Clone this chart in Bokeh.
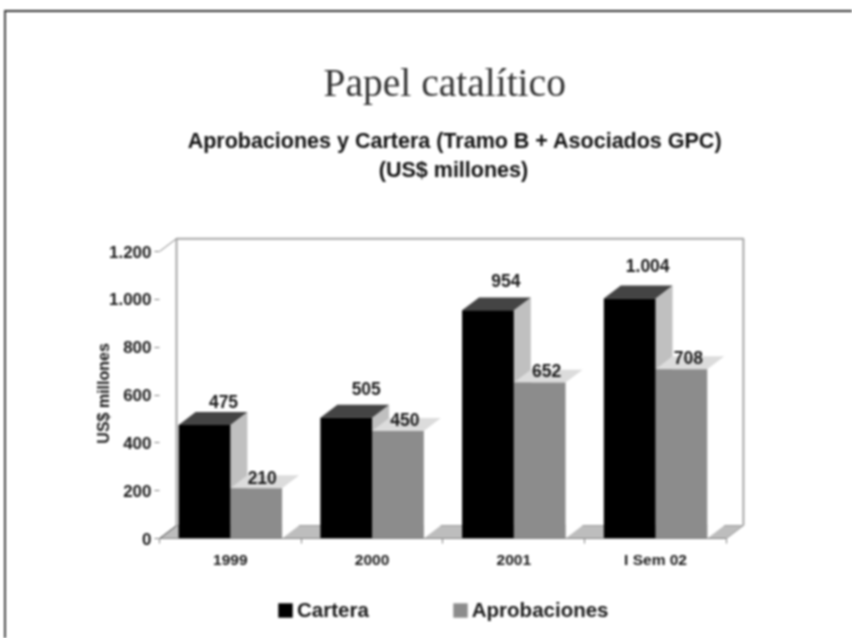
from bokeh.embed import file_html
from bokeh.resources import INLINE
from bokeh.plotting import figure
from bokeh.layouts import column
from bokeh.models import (ColumnDataSource, Range1d, FixedTicker, LinearAxis, Title,
                          Legend, LegendItem)
from bokeh.core.properties import value

categories = ["1999", "2000", "2001", "I Sem 02"]
cartera = [475, 505, 954, 1004]
aprobaciones = [210, 450, 652, 708]
cartera_labels = ["475", "505", "954", "1.004"]
aprobaciones_labels = ["210", "450", "652", "708"]
y_ticks = [0, 200, 400, 600, 800, 1000, 1200]
y_tick_labels = ["0", "200", "400", "600", "800", "1.000", "1.200"]

title_text = "Papel catalítico"
subtitle_1 = "Aprobaciones y Cartera (Tramo B + Asociados GPC)"
subtitle_2 = "(US$ millones)"
y_title = "US$ millones"

# style / geometry
DX, DY = 0.12, 54           # depth of the 3D look, in data units
BW = 0.365                  # bar width in category units
B0 = 0.135                  # black bar starts here inside a category
SANS = "Liberation Sans"
TXT = "#1a1a1a"
NB = "\u00a0"

p = figure(width=846, height=578, output_backend="svg", toolbar_location=None,
           x_range=Range1d(0, 4.17), y_range=Range1d(0, 1288),
           x_axis_type=None, y_axis_type=None,
           min_border_left=153, min_border_right=102, min_border_top=218, min_border_bottom=52,
           outline_line_color=None, background_fill_color="white", border_fill_color="white")
p.grid.visible = False

# back wall + floor
n = len(categories)
p.patch([0, DX, n + DX, n], [0, DY, DY, 0], fill_color="#bdbdbd", line_color="#9a9a9a", line_width=1)
p.line([DX, DX, n + DX, n + DX], [DY, 1200 + DY, 1200 + DY, DY], line_color="#a6a6a6", line_width=2)
p.line([0, DX], [1200, 1200 + DY], line_color="#808080", line_width=1)
p.line([0, DX], [0, DY], line_color="#555555", line_width=1)


def depth(vals, start, top, side):
    for i, v in enumerate(vals):
        l = i + start
        r = l + BW
        p.patch([r, r + DX, r + DX, r], [0, DY, v + DY, v], fill_color=side, line_color=None)
        p.patch([l, l + DX, r + DX, r], [v, v + DY, v + DY, v], fill_color=top, line_color=None)


def front(vals, start, color):
    src = ColumnDataSource(dict(x=[i + start + BW / 2 for i in range(len(vals))], top=vals))
    return p.vbar(x="x", top="top", width=BW, bottom=0, source=src, fill_color=color, line_color=None)


depth(cartera, B0, "#444444", "#c0c0c0")
depth(aprobaciones, B0 + BW, "#dcdcdc", "#ffffff")
front(aprobaciones, B0 + BW, "#8c8c8c")
front(cartera, B0, "#000000")

# value labels
lab = ColumnDataSource(dict(
    x=[i + B0 + BW / 2 for i in range(n)] + [i + B0 + 1.5 * BW for i in range(n)],
    y=cartera + aprobaciones,
    t=cartera_labels + aprobaciones_labels,
    xo=[19, 20, 18, 18, 6, 7, 7, 7],
    yo=[-23, -29, -30, -33, -11, -11, -12, -12],
))
p.text(x="x", y="y", text="t", x_offset="xo", y_offset="yo", source=lab,
       text_align="center", text_baseline="middle", text_font=value(SANS),
       text_font_size="17.5px", text_font_style="bold", text_color=TXT)

# axes
yax = LinearAxis(ticker=FixedTicker(ticks=y_ticks), bounds=(0, 1200),
                 major_label_overrides={t: s for t, s in zip(y_ticks, y_tick_labels)},
                 axis_label=y_title + NB * 4, axis_label_standoff=-6,
                 axis_label_text_font=SANS, axis_label_text_font_size="16px",
                 axis_label_text_font_style="bold", axis_label_text_color=TXT,
                 major_label_text_font=SANS, major_label_text_font_size="17px",
                 major_label_text_font_style="bold", major_label_text_color=TXT,
                 major_label_standoff=3,
                 axis_line_color=None, major_tick_line_color="#808080",
                 major_tick_in=0, major_tick_out=5, minor_tick_line_color=None)
p.add_layout(yax, "left")

centers = [i + 0.5 for i in range(n)]
xax = LinearAxis(ticker=FixedTicker(ticks=centers, minor_ticks=list(range(n + 1))), bounds=(0, n),
                 major_label_overrides={c: s for c, s in zip(centers, categories)},
                 major_label_text_font=SANS, major_label_text_font_size="15.5px",
                 major_label_text_font_style="bold", major_label_text_color=TXT,
                 major_label_standoff=6,
                 axis_line_color="#808080", major_tick_line_color=None,
                 minor_tick_line_color="#808080", minor_tick_in=0, minor_tick_out=5)
p.add_layout(xax, "below")

# titles
p.add_layout(Title(text=subtitle_1 + "\n" + NB * 32 + subtitle_2 + "\n" + NB, align="center", standoff=39,
                   text_font=SANS, text_font_size="21.5px", text_font_style="bold", text_color="#111111",
                   text_line_height=1.2), "above")
p.add_layout(Title(text=title_text, align="left", offset=164, standoff=5,
                   text_font="Liberation Serif",
                   text_font_size="39.5px", text_font_style="normal", text_color="#333333"), "above")

# legend strip
q = figure(width=846, height=48, output_backend="svg", toolbar_location=None,
           x_range=Range1d(0, 1), y_range=Range1d(0, 1), x_axis_type=None, y_axis_type=None,
           min_border_left=0, min_border_right=0, min_border_top=0, min_border_bottom=0,
           outline_line_color=None, background_fill_color="white", border_fill_color="white")
q.grid.visible = False
swatch_x = [0.5]
swatch_top = [0.0]
sw_black = q.vbar(x=swatch_x, top=swatch_top, width=0, fill_color="#000000", line_color=None)
sw_gray = q.vbar(x=swatch_x, top=swatch_top, width=0, fill_color="#8c8c8c", line_color=None)
leg = Legend(items=[LegendItem(label="Cartera", renderers=[sw_black]),
                    LegendItem(label="Aprobaciones", renderers=[sw_gray])],
             orientation="horizontal", location=(117, 16), padding=0, margin=0,
             border_line_color=None, background_fill_alpha=0,
             glyph_width=18, glyph_height=18, label_standoff=3, spacing=82,
             label_text_font=SANS, label_text_font_size="20.5px", label_text_font_style="bold",
             label_text_color=TXT, label_height=15, label_text_baseline="middle")
q.add_layout(leg, "center")

page = column(p, q, spacing=0, margin=(10, 0, 0, 4),
              styles={"border-top": "2px solid #333333", "border-left": "2px solid #444444",
                      "filter": "blur(0.8px)"})

open("out.html", "w").write(file_html(page, INLINE))
